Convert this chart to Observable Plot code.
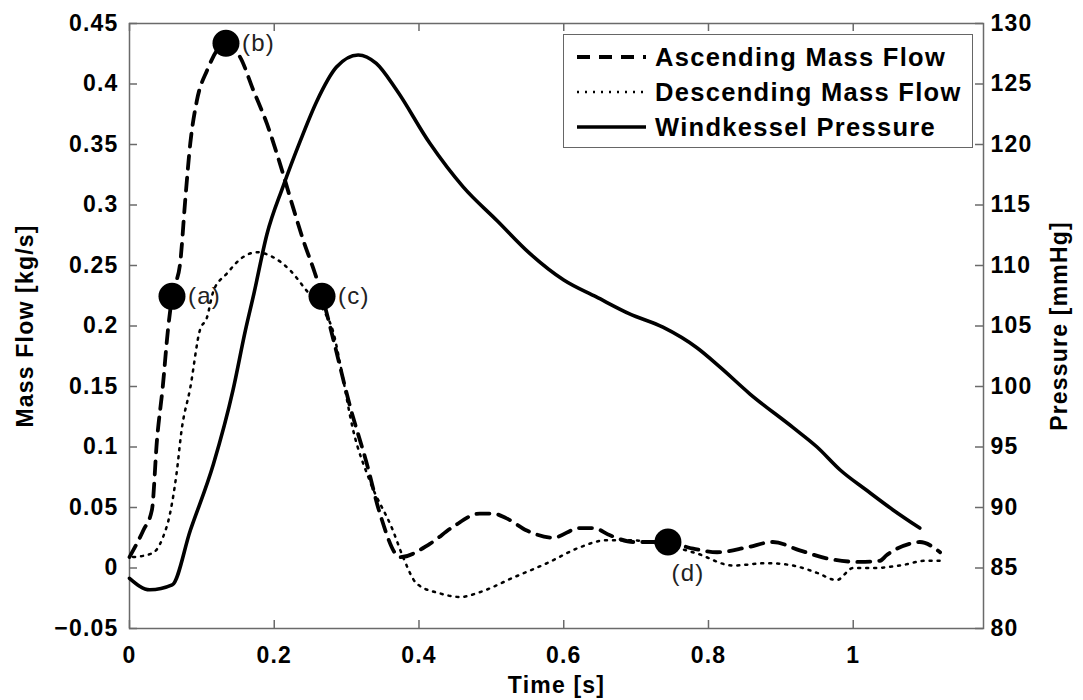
<!DOCTYPE html>
<html><head><meta charset="utf-8">
<script src="https://cdn.jsdelivr.net/npm/d3@7"></script>
<script src="https://cdn.jsdelivr.net/npm/@observablehq/plot@0.6"></script>
<style>
body{margin:0;background:#fff;}
#wrap{position:relative;width:1083px;height:700px;overflow:hidden;}
#legend{position:absolute;left:563px;top:34px;width:410px;height:114px;border:1.5px solid #666;background:#fff;box-sizing:border-box;}
#legend svg{position:absolute;left:0;top:0;}
</style></head>
<body><div id="wrap"></div>
<script>
// ---- Data ----
// Ascending mass flow [kg/s]
const ascT = [0,0.019,0.031,0.038,0.046,0.053,0.059,0.07,0.077,0.084,0.093,0.107,0.132,0.153,0.171,0.19,0.208,0.226,0.24,0.256,0.266,0.282,0.305,0.328,0.346,0.374,0.415,0.447,0.484,0.502,0.521,0.549,0.585,0.622,0.641,0.664,0.696,0.74,0.779,0.812,0.853,0.889,0.926,0.963,1.009,1.037,1.046,1.078,1.092,1.12];
const ascM = [0.009,0.031,0.048,0.106,0.15,0.196,0.225,0.252,0.304,0.351,0.386,0.411,0.433,0.422,0.395,0.367,0.334,0.298,0.271,0.244,0.225,0.188,0.133,0.086,0.045,0.009,0.02,0.034,0.045,0.045,0.041,0.031,0.025,0.033,0.033,0.027,0.0215,0.0215,0.016,0.013,0.017,0.0215,0.0146,0.008,0.005,0.006,0.0105,0.02,0.0215,0.013];
// Descending mass flow [kg/s]
const desT = [0.005,0.031,0.046,0.056,0.065,0.072,0.084,0.097,0.107,0.116,0.134,0.157,0.176,0.198,0.222,0.245,0.268,0.282,0.291,0.309,0.332,0.364,0.378,0.397,0.429,0.457,0.484,0.53,0.577,0.622,0.659,0.691,0.74,0.784,0.834,0.88,0.917,0.95,0.977,1.0,1.028,1.064,1.101,1.12];
const desM = [0.009,0.012,0.025,0.045,0.078,0.114,0.149,0.196,0.207,0.229,0.243,0.257,0.261,0.257,0.246,0.229,0.213,0.194,0.169,0.114,0.072,0.031,0.009,-0.013,-0.021,-0.024,-0.020,-0.008,0.004,0.017,0.023,0.023,0.019,0.012,0.002,0.004,0.002,-0.004,-0.01,0.0,0.0,0.002,0.006,0.006];
// Windkessel pressure [mmHg]
const presT = [0,0.028,0.059,0.084,0.116,0.143,0.160,0.172,0.19,0.212,0.236,0.259,0.286,0.316,0.341,0.369,0.415,0.461,0.508,0.553,0.6,0.645,0.691,0.737,0.784,0.816,0.857,0.917,0.95,0.982,1.019,1.055,1.092];
const presP = [84.15,83.2,83.6,88.1,93.6,99.7,104.6,107.7,112.6,116.5,120.3,123.6,126.4,127.4,126.7,124.5,120.1,116.5,113.7,111.0,108.8,107.4,106.0,104.9,103.2,101.6,99.4,96.6,95.0,93.1,91.4,89.8,88.3];
// Marked points
const markLabels = ["(a)","(b)","(c)","(d)"];
const markT = [0.0587,0.1333,0.266,0.744];
const markM = [0.2245,0.4337,0.2245,0.0215];
// Ticks
const xTicks = [0,0.2,0.4,0.6,0.8,1];
const yTicks = [-0.05,0,0.05,0.1,0.15,0.2,0.25,0.3,0.35,0.4,0.45];
const pTicks = [80,85,90,95,100,105,110,115,120,125,130];
const legendLabels = ["Ascending Mass Flow","Descending Mass Flow","Windkessel Pressure"];

// ---- Build ----
const W = 1083, H = 700, mL = 129, mR = 100, mT = 23, mB = 72;
const frameW = W - mL - mR, frameH = H - mT - mB, tickLen = 8;
const P2F = p => (p - 85) / 100;           // pressure axis -> flow axis
const F2P = f => Math.round(f * 100 + 85);
const fmt = d => String(+d.toFixed(2)).replace("-", "\u2212");

const asc = ascT.map((t, i) => ({t, v: ascM[i]}));
const des = desT.map((t, i) => ({t, v: desM[i]}));
const pres = presT.map((t, i) => ({t, v: P2F(presP[i])}));
const marks = markT.map((t, i) => ({t, v: markM[i], label: markLabels[i]}));

const font = "'Liberation Sans', Arial, Helvetica, sans-serif";
const gray = "#6a6a6a";
const dashStyle = {strokeWidth: 3.8, strokeDasharray: "13,9"};
const dotStyle = {strokeWidth: 2.5, strokeDasharray: "2,6"};
const solidStyle = {strokeWidth: 3.6};

const chart = Plot.plot({
  width: W, height: H,
  marginLeft: mL, marginRight: mR, marginTop: mT, marginBottom: mB,
  style: {fontFamily: font, fontWeight: "bold", fontSize: "23px", color: "#000", background: "#fff", letterSpacing: "1.2px"},
  x: {domain: [0, 1.18]},
  y: {domain: [-0.05, 0.45]},
  marks: [
    Plot.frame({stroke: gray, strokeWidth: 1.5}),
    Plot.tickX(xTicks, {x: d => d, insetTop: frameH - tickLen, stroke: gray, strokeWidth: 1.5}),
    Plot.tickX(xTicks, {x: d => d, insetBottom: frameH - tickLen, stroke: gray, strokeWidth: 1.5}),
    Plot.tickY(yTicks, {y: d => d, insetRight: frameW - tickLen, stroke: gray, strokeWidth: 1.5}),
    Plot.tickY(pTicks, {y: P2F, insetLeft: frameW - tickLen, stroke: gray, strokeWidth: 1.5}),
    Plot.axisX(xTicks, {tickSize: 0, tickPadding: 18, tickFormat: fmt, label: "Time [s]", labelAnchor: "center", labelOffset: 64, labelArrow: "none", fontSize: 23}),
    Plot.axisY(yTicks, {anchor: "left", tickSize: 0, tickPadding: 11, tickFormat: fmt, label: "Mass Flow [kg/s]", labelAnchor: "center", labelOffset: 113, labelArrow: "none", fontSize: 23}),
    Plot.axisY(pTicks.map(P2F), {anchor: "right", tickSize: 0, tickPadding: 7, tickFormat: F2P, label: "Pressure [mmHg]", labelAnchor: "center", labelOffset: 83, labelArrow: "none", fontSize: 23}),
    Plot.line(pres, {x: "t", y: "v", stroke: "#000", ...solidStyle, curve: "monotone-x"}),
    Plot.line(des, {x: "t", y: "v", stroke: "#000", ...dotStyle, curve: "monotone-x"}),
    Plot.line(asc, {x: "t", y: "v", stroke: "#000", ...dashStyle, curve: "monotone-x"}),
    Plot.dot(marks, {x: "t", y: "v", r: 13.5, fill: "#000", stroke: "none"}),
    Plot.text(marks.slice(0, 3), {x: "t", y: "v", text: "label", dx: 16, textAnchor: "start", fontWeight: "normal", fontSize: 24, fill: "#222"}),
    Plot.text(marks.slice(3), {x: "t", y: "v", text: "label", dx: 20, dy: 31, textAnchor: "middle", fontWeight: "normal", fontSize: 24, fill: "#222"})
  ]
});

const wrap = document.getElementById("wrap");
wrap.appendChild(chart);

// Legend (inside plot area, top right)
const leg = document.createElement("div");
leg.id = "legend";
const styles = [dashStyle, dotStyle, solidStyle];
const ns = "http://www.w3.org/2000/svg";
const svg = document.createElementNS(ns, "svg");
svg.setAttribute("width", 408); svg.setAttribute("height", 112);
legendLabels.forEach((lab, i) => {
  const cy = 22 + i * 35;
  const ln = document.createElementNS(ns, "line");
  ln.setAttribute("x1", 13); ln.setAttribute("x2", 82);
  ln.setAttribute("y1", cy); ln.setAttribute("y2", cy);
  ln.setAttribute("stroke", "#000");
  ln.setAttribute("stroke-width", styles[i].strokeWidth);
  if (styles[i].strokeDasharray) ln.setAttribute("stroke-dasharray", styles[i].strokeDasharray);
  svg.appendChild(ln);
  const tx = document.createElementNS(ns, "text");
  tx.setAttribute("x", 91); tx.setAttribute("y", cy);
  tx.setAttribute("dy", "0.35em");
  tx.setAttribute("font-family", font);
  tx.setAttribute("font-weight", "bold");
  tx.setAttribute("font-size", 25.5);
  tx.setAttribute("letter-spacing", "1.3px");
  tx.textContent = lab;
  svg.appendChild(tx);
});
leg.appendChild(svg);
wrap.appendChild(leg);
</script>
</body></html>
